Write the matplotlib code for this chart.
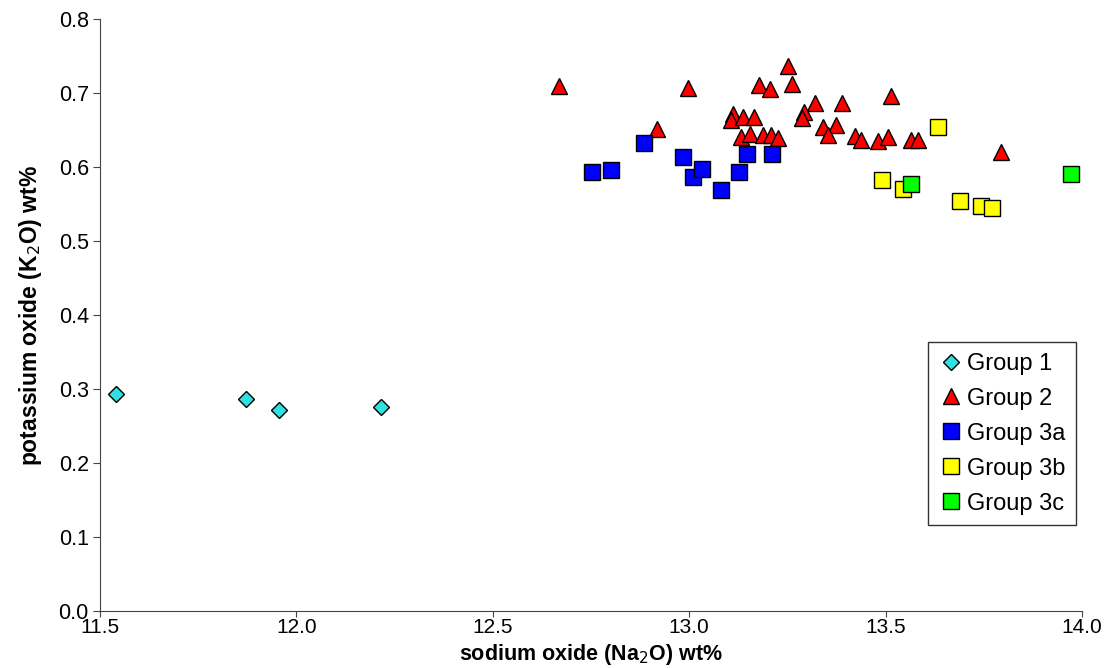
import numpy as np
import matplotlib
matplotlib.use('Agg')
import matplotlib.pyplot as plt

plt.rcParams['font.family'] = ['Liberation Sans', 'DejaVu Sans']

# Group 1
g1_na = [11.541, 11.872, 11.956, 12.215]
g1_k = [0.294, 0.286, 0.272, 0.276]

# Group 2
g2_na = [12.669, 12.998, 12.919, 13.252, 13.177, 13.206, 13.261, 13.111, 13.106,
         13.138, 13.166, 13.132, 13.155, 13.187, 13.208, 13.226, 13.320, 13.293,
         13.288, 13.340, 13.373, 13.354, 13.515, 13.390, 13.423, 13.437, 13.481,
         13.507, 13.566, 13.583, 13.793]
g2_k = [0.710, 0.707, 0.651, 0.737, 0.711, 0.706, 0.712, 0.672, 0.664,
        0.668, 0.667, 0.640, 0.645, 0.643, 0.643, 0.639, 0.686, 0.674,
        0.666, 0.654, 0.657, 0.643, 0.696, 0.686, 0.642, 0.636, 0.635,
        0.640, 0.637, 0.637, 0.620]

# Group 3a
g3a_na = [12.753, 12.800, 12.884, 12.985, 13.009, 13.032, 13.081, 13.128, 13.148, 13.212]
g3a_k = [0.593, 0.596, 0.632, 0.613, 0.586, 0.598, 0.569, 0.593, 0.617, 0.617]

# Group 3b
g3b_na = [13.634, 13.492, 13.545, 13.689, 13.743, 13.772]
g3b_k = [0.654, 0.582, 0.571, 0.554, 0.548, 0.544]

# Group 3c
g3c_na = [13.564, 13.971]
g3c_k = [0.577, 0.590]

fig = plt.figure(figsize=(11.12, 6.68), dpi=100)
ax = fig.add_axes([0.0899, 0.085, 0.8831, 0.8866])

ax.plot(g1_na, g1_k, 'D', ms=8, mfc='#33E0E0', mec='black', mew=1, ls='none', label='Group 1')
ax.plot(g2_na, g2_k, '^', ms=12, mfc='#FF0000', mec='black', mew=1, ls='none', label='Group 2')
ax.plot(g3a_na, g3a_k, 's', ms=11, mfc='#0000FF', mec='black', mew=1, ls='none', label='Group 3a')
ax.plot(g3b_na, g3b_k, 's', ms=11, mfc='#FFFF00', mec='black', mew=1, ls='none', label='Group 3b')
ax.plot(g3c_na, g3c_k, 's', ms=11, mfc='#00FF00', mec='black', mew=1, ls='none', label='Group 3c')

ax.set_xlim(11.5, 14.0)
ax.set_ylim(0.0, 0.8)
ax.set_xticks(np.arange(11.5, 14.01, 0.5))
ax.set_yticks(np.arange(0, 0.81, 0.1))
ax.xaxis.set_major_formatter(matplotlib.ticker.FormatStrFormatter('%.1f'))
ax.yaxis.set_major_formatter(matplotlib.ticker.FormatStrFormatter('%.1f'))
ax.tick_params(direction='out', length=5, labelsize=15.5, color='#444444', pad=3)
ax.tick_params(axis='x', length=4, labelsize=15, pad=1)
ax.spines['top'].set_visible(False)
ax.spines['right'].set_visible(False)
ax.spines['left'].set_color('#444444')
ax.spines['bottom'].set_color('#444444')

ax.set_xlabel('sodium oxide (Na$_2$O) wt%', fontsize=15.5, fontweight='bold')
ax.set_ylabel('potassium oxide (K$_2$O) wt%', fontsize=16.5, fontweight='bold')
ax.xaxis.set_label_coords(0.5, -0.052)
ax.yaxis.set_label_coords(-0.057, 0.5)

leg = ax.legend(loc='lower right', bbox_to_anchor=(0.994, 0.145), fontsize=17, frameon=True,
                fancybox=False, edgecolor='black', handletextpad=0.2, handlelength=1.0,
                borderpad=0.45, labelspacing=0.55, borderaxespad=0)
leg.get_frame().set_linewidth(1)

fig.savefig('out.png', dpi=100)
